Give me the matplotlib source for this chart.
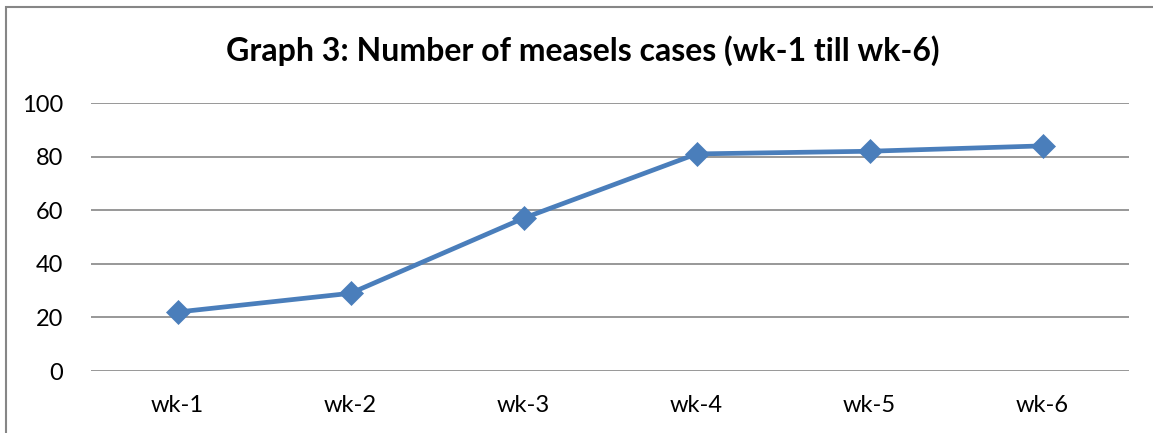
import matplotlib
matplotlib.use("Agg")
import matplotlib.pyplot as plt
from matplotlib.patches import Rectangle

categories = ["wk-1", "wk-2", "wk-3", "wk-4", "wk-5", "wk-6"]
cases = [22, 29, 57, 81, 82, 84]
yticks = [0, 20, 40, 60, 80, 100]
title = "Graph 3: Number of measels cases (wk-1 till wk-6)"

W, H = 1153, 433
fig = plt.figure(figsize=(W / 100, H / 100), dpi=100)
plt.rcParams['font.family'] = ['Lato', 'DejaVu Sans']

# outer chart border (only left and top visible)
fig.patches.append(Rectangle((6 / W, -0.1), 1.2, (H - 7) / H + 0.1, transform=fig.transFigure,
                             fill=False, edgecolor="#868686", linewidth=1.5))

ax = fig.add_axes([91 / W, (H - 371) / H, (1129 - 91) / W, (371 - 103) / H])
x = list(range(len(categories)))
ax.plot(x, cases, color="#4A7EBB", linewidth=3.4, marker="D", markersize=12.5,
        markerfacecolor="#4A7EBB", markeredgecolor="#4A7EBB", markeredgewidth=0.5,
        zorder=3, clip_on=False)
ax.set_xlim(-0.5, len(categories) - 0.5)
ax.set_ylim(0, 100)
ax.set_yticks(yticks)
ax.set_xticks(x)
ax.set_xticklabels(categories)
for s in ax.spines.values():
    s.set_visible(False)
ax.grid(axis="y", color="#868686", linewidth=1.2)
ax.set_axisbelow(True)
ax.tick_params(axis="both", length=0, labelsize=17, colors="black")
ax.tick_params(axis="y", pad=20)
ax.tick_params(axis="x", pad=17)
fig.text(583 / W, (H - 61) / H, title, ha="center", va="baseline", fontsize=23, fontweight="bold")

fig.savefig("out.png", dpi=100)
